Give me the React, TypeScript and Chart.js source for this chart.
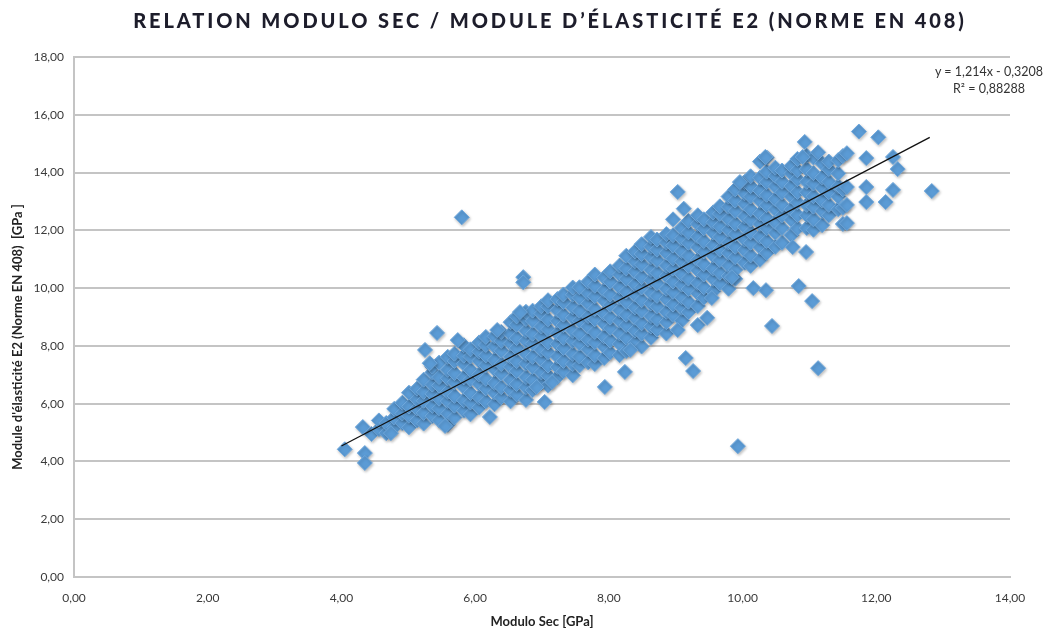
import React, { useEffect, useRef } from "react";
import { Chart, registerables } from "chart.js";

Chart.register(...registerables);

const chartTitle = "RELATION MODULO SEC / MODULE D’ÉLASTICITÉ E2 (NORME EN 408)";
const xAxisTitle = "Modulo Sec [GPa]";
const yAxisTitle = "Module d'élasticité E2 (Norme EN 408)  [GPa ]";
const equationText = "y = 1,214x - 0,3208";
const r2Text = "R² = 0,88288";

const xTickValues = [0, 2, 4, 6, 8, 10, 12, 14];
const yTickValues = [0, 2, 4, 6, 8, 10, 12, 14, 16, 18];

// Trend line end points (from the displayed equation y = 1,214x - 0,3208)
const trendX = [4.0, 12.8];
const trendY = [4.535, 15.218];

// Columns of the dense band: [x, y values...]
const bandColumns: [number, number[]][] = [
  [4.45, [4.95]],
  [4.56, [5.12, 5.42]],
  [4.67, [4.98, 5.33]],
  [4.79, [5.18, 5.52, 5.82]],
  [4.91, [5.33, 5.66, 6.03]],
  [5.01, [5.18, 5.58, 5.9, 6.38]],
  [5.13, [5.42, 5.83, 6.15, 6.52]],
  [5.23, [5.31, 5.68, 6.1, 6.41, 6.83]],
  [5.36, [5.57, 5.92, 6.34, 6.66, 7.08, 7.28]],
  [5.46, [5.43, 5.84, 6.17, 6.63, 6.92, 7.42]],
  [5.59, [5.27, 5.66, 6.09, 6.41, 6.88, 7.17, 7.62]],
  [5.69, [5.52, 5.93, 6.27, 6.74, 7.06, 7.48, 7.73]],
  [5.83, [5.76, 6.12, 6.58, 6.91, 7.38, 7.66, 8.02]],
  [5.93, [5.63, 6.04, 6.37, 6.84, 7.17, 7.63, 7.88]],
  [6.06, [5.87, 6.22, 6.68, 7.01, 7.48, 7.81, 8.12]],
  [6.16, [6.08, 6.53, 6.86, 7.33, 7.67, 8.03, 8.31]],
  [6.29, [5.98, 6.38, 6.72, 7.19, 7.52, 7.98, 8.33]],
  [6.39, [6.22, 6.57, 7.04, 7.37, 7.83, 8.17, 8.48]],
  [6.53, [6.08, 6.47, 6.82, 7.28, 7.62, 8.08, 8.42, 8.82]],
  [6.62, [6.32, 6.68, 7.13, 7.47, 7.93, 8.27, 8.73, 9.02]],
  [6.76, [6.13, 6.57, 6.92, 7.38, 7.72, 8.18, 8.52, 8.93, 9.18]],
  [6.86, [6.47, 6.83, 7.27, 7.62, 8.08, 8.42, 8.87, 9.22]],
  [6.99, [6.72, 7.08, 7.53, 7.87, 8.33, 8.67, 9.12, 9.37]],
  [7.09, [6.63, 6.97, 7.32, 7.78, 8.12, 8.58, 8.92, 9.37, 9.58]],
  [7.23, [6.92, 7.27, 7.63, 8.07, 8.43, 8.87, 9.23, 9.62]],
  [7.32, [7.12, 7.48, 7.93, 8.28, 8.72, 9.08, 9.52, 9.78]],
  [7.46, [6.98, 7.37, 7.72, 8.17, 8.52, 8.97, 9.33, 9.77, 10.02]],
  [7.56, [7.32, 7.63, 8.08, 8.43, 8.87, 9.22, 9.67, 10.03]],
  [7.69, [7.43, 7.88, 8.22, 8.67, 9.03, 9.47, 9.83, 10.22]],
  [7.79, [7.37, 7.68, 8.13, 8.48, 8.92, 9.28, 9.72, 10.08, 10.47]],
  [7.93, [7.58, 7.97, 8.32, 8.77, 9.12, 9.57, 9.93, 10.37]],
  [8.02, [7.77, 8.18, 8.62, 8.98, 9.42, 9.78, 10.22, 10.58]],
  [8.16, [7.68, 8.07, 8.43, 8.87, 9.23, 9.67, 10.03, 10.47, 10.78]],
  [8.26, [7.82, 8.28, 8.72, 9.08, 9.52, 9.88, 10.32, 10.68, 11.12]],
  [8.39, [8.12, 8.53, 8.97, 9.33, 9.77, 10.13, 10.57, 10.93, 11.27]],
  [8.49, [7.98, 8.42, 8.78, 9.22, 9.58, 10.02, 10.38, 10.82, 11.18, 11.52]],
  [8.63, [8.28, 8.67, 9.03, 9.47, 9.83, 10.27, 10.63, 11.07, 11.43, 11.77]],
  [8.72, [8.57, 8.93, 9.37, 9.73, 10.17, 10.53, 10.97, 11.33, 11.68]],
  [8.86, [8.43, 8.82, 9.18, 9.62, 9.98, 10.42, 10.78, 11.22, 11.58, 11.87]],
  [8.96, [9.07, 9.43, 9.87, 10.23, 10.67, 11.03, 11.47, 11.83, 12.38]],
  [9.09, [8.88, 9.32, 9.68, 10.12, 10.48, 10.92, 11.28, 11.72, 12.08]],
  [9.19, [9.17, 9.53, 9.97, 10.33, 10.77, 11.13, 11.57, 11.93, 12.32]],
  [9.33, [9.38, 9.82, 10.18, 10.62, 10.98, 11.42, 11.78, 12.22, 12.52]],
  [9.42, [9.67, 10.03, 10.47, 10.83, 11.27, 11.63, 12.07, 12.38]],
  [9.56, [9.88, 10.32, 10.68, 11.12, 11.48, 11.92, 12.28, 12.62]],
  [9.66, [10.17, 10.53, 10.97, 11.33, 11.77, 12.13, 12.57, 12.83]],
  [9.79, [9.98, 10.42, 10.78, 11.22, 11.58, 12.02, 12.38, 12.82, 13.17]],
  [9.89, [10.32, 10.63, 11.07, 11.43, 11.87, 12.23, 12.67, 13.03, 13.42]],
  [10.03, [10.88, 11.32, 11.68, 12.12, 12.48, 12.92, 13.28, 13.67]],
  [10.12, [10.77, 11.13, 11.57, 11.93, 12.37, 12.73, 13.17, 13.53, 13.87]],
  [10.26, [10.98, 11.42, 11.78, 12.22, 12.58, 13.02, 13.38, 13.82, 14.38]],
  [10.36, [11.22, 11.63, 12.07, 12.43, 12.87, 13.23, 13.67, 14.03, 14.52]],
  [10.49, [11.43, 11.92, 12.28, 12.72, 13.08, 13.52, 13.88, 14.17]],
  [10.59, [11.57, 12.08, 12.52, 12.88, 13.32, 13.68, 14.07]],
  [10.73, [11.83, 12.37, 12.73, 13.17, 13.53, 13.97, 14.23]],
  [10.82, [12.07, 12.53, 12.97, 13.33, 13.77, 14.08, 14.47]],
  [10.96, [12.08, 12.52, 12.88, 13.32, 13.68, 14.12, 14.58]],
  [11.06, [12.02, 12.38, 12.82, 13.18, 13.62, 13.98, 14.52]],
  [11.19, [12.18, 12.67, 13.03, 13.47, 13.83, 14.32]],
  [11.29, [12.52, 12.88, 13.32, 13.68, 14.12, 14.38]],
  [11.43, [12.73, 13.17, 13.53, 13.97, 14.43]],
  [11.5, [12.22, 12.78, 13.42, 14.57]],
];

// Isolated points around the band
const outlierPoints: [number, number][] = [
  [4.05, 4.42], [4.32, 5.19], [4.35, 4.29], [4.35, 3.95], [4.74, 4.98],
  [5.25, 7.86], [5.32, 7.4], [5.43, 8.45], [5.74, 8.2], [5.55, 5.23], [6.22, 5.54],
  [5.8, 12.45], [6.72, 10.38], [6.72, 10.2], [6.67, 9.17], [6.33, 8.55],
  [6.92, 6.58], [7.04, 6.06], [7.15, 6.75], [7.94, 6.58], [8.24, 7.1], [8.32, 7.86],
  [9.03, 8.55], [9.33, 8.72], [9.47, 8.97], [9.15, 7.58], [9.26, 7.13],
  [9.54, 9.66], [9.84, 10.38], [10.16, 10.0], [10.35, 9.93], [10.44, 8.69],
  [10.84, 10.07], [11.04, 9.55], [11.13, 7.23], [9.93, 4.53],
  [10.75, 11.42], [10.95, 11.25], [9.03, 13.33], [9.12, 12.75],
  [10.93, 15.06], [11.74, 15.42], [12.03, 15.22], [12.25, 14.54], [12.32, 14.12],
  [12.83, 13.36], [12.25, 13.4], [12.14, 12.98], [11.85, 13.5], [11.85, 12.98],
  [11.85, 14.5], [11.56, 12.88], [11.56, 12.25], [11.56, 13.5], [11.13, 14.7], [11.56, 14.67],
  [10.34, 14.54], [10.9, 14.54], [9.96, 13.67],
];

const fmt = (v: number) => v.toFixed(2).replace(".", ",");
const fontFamily = "Lato, 'Noto Sans', sans-serif";

const shadowPlugin = {
  id: "pointShadow",
  beforeDatasetDraw(chart: any, args: any) {
    if (args.index === 1) {
      const ctx = chart.ctx;
      ctx.save();
      ctx.shadowColor = "rgba(0,0,0,0.25)";
      ctx.shadowBlur = 3;
      ctx.shadowOffsetX = 1;
      ctx.shadowOffsetY = 1.5;
    }
  },
  afterDatasetDraw(chart: any, args: any) {
    if (args.index === 1) chart.ctx.restore();
  },
};

const axisTitlesPlugin = {
  id: "axisTitles",
  afterDraw(chart: any) {
    const ctx = chart.ctx;
    const area = chart.chartArea;
    ctx.save();
    ctx.fillStyle = "#222222";
    ctx.font = `bold 13px ${fontFamily}`;
    ctx.textAlign = "center";
    ctx.textBaseline = "middle";
    ctx.fillText(xAxisTitle, (area.left + area.right) / 2, 622);
    ctx.translate(18, (area.top + area.bottom) / 2 + 20);
    ctx.rotate(-Math.PI / 2);
    ctx.fillText(yAxisTitle, 0, 0);
    ctx.restore();
  },
};

export default function App() {
  const canvasRef = useRef<HTMLCanvasElement | null>(null);

  useEffect(() => {
    if (!canvasRef.current) return;
    const scatterData: { x: number; y: number }[] = [];
    bandColumns.forEach(([x, ys]) => ys.forEach((y) => scatterData.push({ x, y })));
    outlierPoints.forEach(([x, y]) => scatterData.push({ x, y }));
    const trendData = trendX.map((x, i) => ({ x, y: trendY[i] }));

    const tickFont = { family: fontFamily, size: 12 };
    const chart = new Chart(canvasRef.current, {
      type: "scatter",
      data: {
        datasets: [
          {
            label: "Tendance",
            data: trendData,
            showLine: true,
            borderColor: "#111111",
            borderWidth: 1.3,
            pointRadius: 0,
            fill: false,
          } as any,
          {
            label: "E2",
            data: scatterData,
            pointStyle: "rectRot",
            pointRadius: 7.5,
            backgroundColor: "#5b9bd5",
            borderColor: "#6fa7db",
            borderWidth: 1,
          } as any,
        ],
      },
      options: {
        animation: false,
        responsive: false,
        layout: { padding: { left: 8, right: 37, top: 57, bottom: 0 } },
        plugins: {
          legend: { display: false },
          tooltip: { enabled: false },
        },
        scales: {
          x: {
            type: "linear",
            min: 0,
            max: 14,
            afterBuildTicks: (s: any) => {
              s.ticks = xTickValues.map((v) => ({ value: v }));
            },
            afterFit: (s: any) => {
              s.height = 56;
            },
            grid: { display: false, drawTicks: false },
            border: { display: true, color: "#c4c4c4", width: 2 },
            ticks: {
              padding: 14,
              color: "#3a3a3a",
              font: tickFont,
              maxRotation: 0,
              callback: (v: any) => fmt(Number(v)),
            },
            title: { display: false },
          },
          y: {
            type: "linear",
            min: 0,
            max: 18,
            afterBuildTicks: (s: any) => {
              s.ticks = yTickValues.map((v) => ({ value: v }));
            },
            afterFit: (s: any) => {
              s.width = 66;
            },
            grid: { color: "#c4c4c4", lineWidth: 2, drawTicks: false },
            border: { display: true, color: "#c4c4c4", width: 2 },
            ticks: {
              padding: 10,
              color: "#3a3a3a",
              font: tickFont,
              callback: (v: any) => fmt(Number(v)),
            },
            title: { display: false },
          },
        },
      },
      plugins: [shadowPlugin, axisTitlesPlugin],
    });
    return () => chart.destroy();
  }, []);

  return (
    <div style={{ position: "absolute", left: 0, top: 0, width: 1047, height: 633, background: "#ffffff", overflow: "hidden" }}>
      <canvas ref={canvasRef} width={1047} height={633} style={{ position: "absolute", left: 0, top: 0 }} />
      <div
        style={{
          position: "absolute",
          top: 8,
          left: 550,
          transform: "translateX(-50%)",
          whiteSpace: "nowrap",
          fontFamily,
          fontWeight: 900,
          fontSize: 20,
          letterSpacing: "2.9px",
          color: "#1d1d2b",
          lineHeight: "24px",
        }}
      >
        {chartTitle}
      </div>
      <div
        style={{
          position: "absolute",
          top: 63,
          right: 4,
          textAlign: "center",
          fontFamily,
          fontSize: 12.5,
          color: "#333333",
          lineHeight: "17px",
          whiteSpace: "nowrap",
        }}
      >
        <div>{equationText}</div>
        <div>{r2Text}</div>
      </div>
    </div>
  );
}
